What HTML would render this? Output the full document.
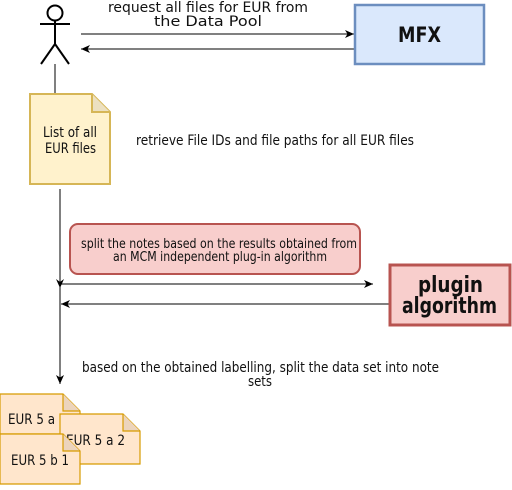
<!DOCTYPE html>
<html><head><style>
body{margin:0;background:#fff;width:512px;height:485px;overflow:hidden}
svg text{font-family:"DejaVu Sans","Liberation Sans",sans-serif;fill:#111}
</style></head><body>
<svg width="512" height="485" viewBox="0 0 512 485" xmlns="http://www.w3.org/2000/svg">
<defs>
<marker id="a" markerWidth="10" markerHeight="10" refX="9" refY="5" orient="auto" markerUnits="userSpaceOnUse">
<path d="M0,1 L9,5 L0,9 L2.5,5 Z" fill="#000"/></marker>
</defs>
<g stroke="#000" stroke-width="2" fill="none">
<circle cx="55" cy="13" r="7.5" fill="#fff"/>
<line x1="55" y1="21" x2="55" y2="44"/>
<line x1="40" y1="24" x2="70" y2="24"/>
<line x1="55" y1="44" x2="41" y2="64"/>
<line x1="55" y1="44" x2="69" y2="64"/>
</g>
<line x1="55" y1="64" x2="55" y2="94" stroke="#000" stroke-width="1"/>
<path d="M30,94 H92 L110,112 V184 H30 Z" fill="#fff2cc" stroke="#d6b656" stroke-width="2"/>
<path d="M92,94 V112 H110" fill="#ece0c0" stroke="#d6b656" stroke-width="2"/>
<text x="43" y="137" style="font-size:14px" textLength="54" lengthAdjust="spacingAndGlyphs">List of all</text>
<text x="45" y="153" style="font-size:14px" textLength="51" lengthAdjust="spacingAndGlyphs">EUR files</text>
<text x="136" y="145" style="font-size:14px" textLength="278" lengthAdjust="spacingAndGlyphs">retrieve File IDs and file paths for all EUR files</text>
<line x1="81" y1="34" x2="354" y2="34" stroke="#000" marker-end="url(#a)"/>
<line x1="354" y1="49" x2="81" y2="49" stroke="#000" marker-end="url(#a)"/>
<text x="108" y="12" style="font-size:14px" textLength="200" lengthAdjust="spacingAndGlyphs">request all files for EUR from</text>
<text x="154" y="26" style="font-size:14px" textLength="108" lengthAdjust="spacingAndGlyphs">the Data Pool</text>
<rect x="355" y="5" width="129" height="59" fill="#dae8fc" stroke="#6c8ebf" stroke-width="2.5"/>
<text x="398" y="42" style="font-size:21px;font-weight:bold" textLength="43" lengthAdjust="spacingAndGlyphs">MFX</text>
<line x1="60" y1="189" x2="60" y2="384" stroke="#000" marker-end="url(#a)"/>
<path d="M56,279 L60,288 L64,279 L60,282 Z" fill="#000"/>
<rect x="70" y="224" width="290" height="50" rx="8" fill="#f8cecc" stroke="#b85450" stroke-width="2"/>
<text x="81" y="248" style="font-size:13px" textLength="276" lengthAdjust="spacingAndGlyphs">split the notes based on the results obtained from</text>
<text x="113" y="261" style="font-size:13px" textLength="214" lengthAdjust="spacingAndGlyphs">an MCM independent plug-in algorithm</text>
<line x1="60" y1="284" x2="373" y2="284" stroke="#000" marker-end="url(#a)"/>
<line x1="390" y1="304" x2="61" y2="304" stroke="#000" marker-end="url(#a)"/>
<rect x="390" y="265" width="120" height="60" fill="#f8cecc" stroke="#b85450" stroke-width="3"/>
<text x="418" y="292" style="font-size:22px;font-weight:bold" textLength="65" lengthAdjust="spacingAndGlyphs">plugin</text>
<text x="402" y="313" style="font-size:22px;font-weight:bold" textLength="95" lengthAdjust="spacingAndGlyphs">algorithm</text>
<text x="82" y="372" style="font-size:14px" textLength="357" lengthAdjust="spacingAndGlyphs">based on the obtained labelling, split the data set into note</text>
<text x="248" y="386" style="font-size:14px" textLength="24" lengthAdjust="spacingAndGlyphs">sets</text>
<g stroke="#d79b00" stroke-width="1.2">
<path d="M0,394 H63 L80,411 V434 H0 Z" fill="#ffe6cc"/>
<path d="M63,394 V411 H80" fill="#ecd4bc"/>
</g>
<text x="8" y="424" style="font-size:14px" textLength="47" lengthAdjust="spacingAndGlyphs">EUR 5 a</text>
<g stroke="#d79b00" stroke-width="1.2">
<path d="M60,414 H123 L140,431 V464 H60 Z" fill="#ffe6cc"/>
<path d="M123,414 V431 H140" fill="#ecd4bc"/>
</g>
<text x="66" y="445" style="font-size:14px" textLength="59" lengthAdjust="spacingAndGlyphs">EUR 5 a 2</text>
<g stroke="#d79b00" stroke-width="1.2">
<path d="M0,434 H63 L80,451 V484 H0 Z" fill="#ffe6cc"/>
<path d="M63,434 V451 H80" fill="#ecd4bc"/>
</g>
<text x="11" y="465" style="font-size:14px" textLength="58" lengthAdjust="spacingAndGlyphs">EUR 5 b 1</text>
</svg>
</body></html>
